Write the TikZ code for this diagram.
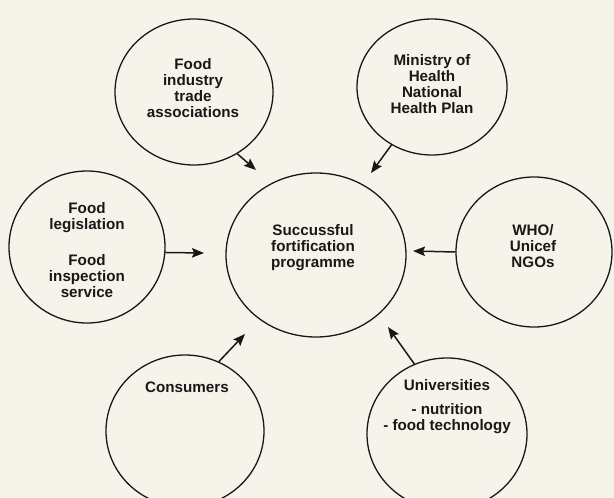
\documentclass[tikz,border=0pt]{standalone}
\usepackage{fontspec}
\setmainfont{Liberation Sans}
\usetikzlibrary{shapes.geometric,arrows.meta}
\definecolor{paper}{HTML}{F6F4EA}
\definecolor{ink}{HTML}{181818}
\begin{document}
\begin{tikzpicture}[x=1pt,y=-1pt,
  disc/.style={ellipse, draw=ink, line width=1.3pt, inner sep=0pt},
  lbl/.style={font=\bfseries\fontsize{15.2}{16}\selectfont, text=ink, align=center, inner sep=0pt},
  feed/.style={draw=ink, line width=1.5pt, -{Stealth[length=12pt,width=9.5pt,inset=2pt]}}]
\fill[paper] (0,0) rectangle (614,498);
\useasboundingbox (0,0) rectangle (614,498);

% stakeholder circles
\node[disc, minimum width=158pt, minimum height=146pt] (fi)  at (194,92)  {};
\node[disc, minimum width=150pt, minimum height=136pt] (mh)  at (432,87)  {};
\node[disc, minimum width=156pt, minimum height=152pt] (fl)  at (87,247)  {};
\node[disc, minimum width=180pt, minimum height=164pt] (sfp) at (316,255) {};
\node[disc, minimum width=156pt, minimum height=150pt] (who) at (534,252) {};
\node[disc, minimum width=158pt, minimum height=152pt] (co)  at (185,431) {};
\node[disc, minimum width=160pt, minimum height=152pt] (un)  at (447,434) {};

% labels
\node[lbl] (fi-t)  at (193,88)  {Food\\industry\\trade\\associations};
\node[lbl] (mh-t)  at (432,84)  {Ministry of\\Health\\National\\Health Plan};
\node[lbl] (fl-t)  at (87,250)  {Food\\legislation\\[20pt]Food\\inspection\\service};
\node[lbl] (sfp-t) at (313,248) {Succussful\\fortification\\programme};
\node[lbl] (who-t) at (533,246) {WHO/\\Unicef\\NGOs};
\node[lbl] (co-t)  at (187,387) {Consumers};
\node[lbl] (un-t)  at (447,407) {Universities\\[8pt]- nutrition\\- food technology};

% arrow tips pointing at the programme
\coordinate (fi-tip)  at (256,170);
\coordinate (mh-tip)  at (371,173);
\coordinate (fl-tip)  at (204,253);
\coordinate (who-tip) at (413,251);
\coordinate (co-tip)  at (245,334);
\coordinate (un-tip)  at (388,327);

\draw[feed] (fi.-55)  -- (fi-tip);
\draw[feed] (mh.-125) -- (mh-tip);
\draw[feed] (fl.-4)   -- (fl-tip);
\draw[feed] (who.180) -- (who-tip);
\draw[feed] (co.64)   -- (co-tip);
\draw[feed] (un.115)  -- (un-tip);
\end{tikzpicture}
\end{document}
